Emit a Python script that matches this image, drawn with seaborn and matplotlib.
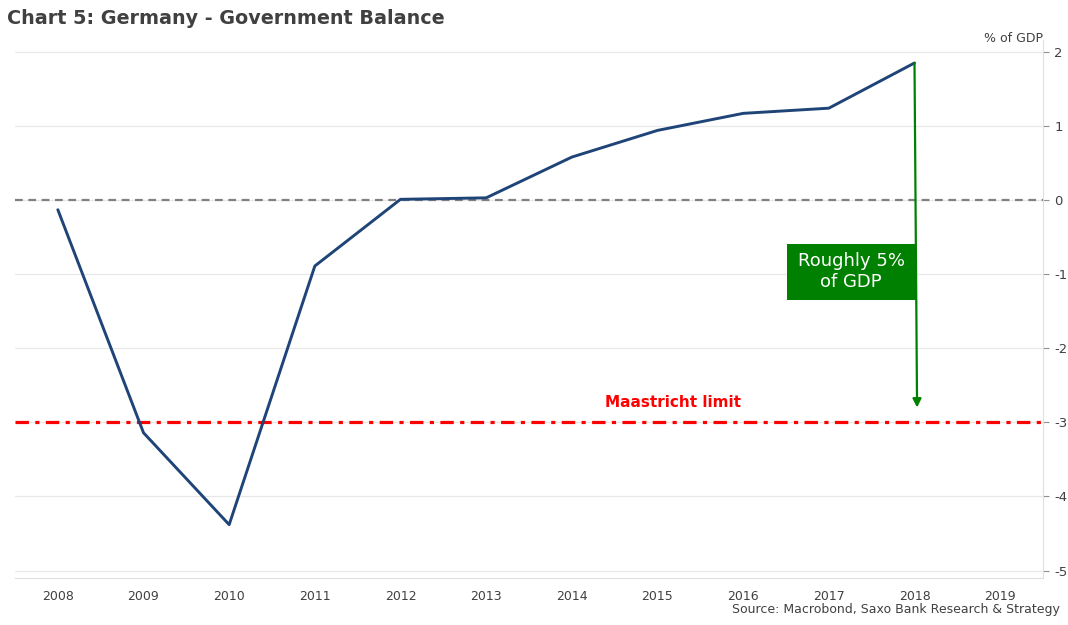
import numpy as np
import pandas as pd
import matplotlib
matplotlib.use("Agg")
import matplotlib.pyplot as plt
import seaborn as sns
from matplotlib.patches import Rectangle

# data (% of GDP)
years = [2008, 2009, 2010, 2011, 2012, 2013, 2014, 2015, 2016, 2017, 2018]
balance = [-0.13, -3.14, -4.38, -0.89, 0.01, 0.03, 0.58, 0.94, 1.17, 1.24, 1.85]
year_labels = [str(y) for y in range(2008, 2020)]
y_ticks = [2, 1, 0, -1, -2, -3, -4, -5]
maastricht = -3

df = pd.DataFrame({"year": years, "balance": balance})

sns.set_style("white")
plt.rcParams['font.family'] = ['DejaVu Sans']

fig = plt.figure(figsize=(10.68, 6.25), dpi=100)
ax = fig.add_axes([15 / 1068, 1 - 578 / 625, (1043 - 15) / 1068, (578 - 40) / 625])

for t in y_ticks:
    ax.axhline(t, color="#e8e8e8", linewidth=0.9, zorder=0)

# zero line + Maastricht limit
ax.axhline(0, color="#808080", linewidth=1.6, linestyle=(0, (3.5, 2.5)), zorder=1)
ax.axhline(maastricht, color="#ff0000", linewidth=2.3, dashes=(4.2, 2, 1.3, 2), zorder=1)

sns.lineplot(data=df, x="year", y="balance", ax=ax, color="#1f4478", linewidth=2.1, zorder=3)

# annotation arrow and box
ax.annotate("", xy=(2018.03, -2.8), xytext=(2018.0, 1.85),
            arrowprops=dict(arrowstyle="-|>,head_length=0.5,head_width=0.25", color="#008000", lw=1.6,
                            shrinkA=0, shrinkB=0), zorder=4)
ax.add_patch(Rectangle((2016.51, -1.345), 1.51, 0.755, facecolor="#008000", edgecolor="none", zorder=5))
ax.text(2017.26, -0.965, "Roughly 5%\nof GDP", color="white", fontsize=13, ha="center", va="center",
        linespacing=1.2, zorder=6)
ax.text(2015.18, -2.73, "Maastricht limit", color="#ff0000", fontsize=11, fontweight="bold",
        ha="center", va="center")

ax.set_xlim(2007.5, 2019.5)
ax.set_ylim(-5.1, 2.16)

# x axis: tick marks at year boundaries, labels centred
ax.set_xticks(np.arange(2007.5, 2020, 1))
ax.set_xticklabels([])
ax.set_xticks(np.arange(2008, 2020), minor=True)
ax.set_xticklabels(year_labels, minor=True)
ax.tick_params(axis="x", which="major", length=4, width=0.8, color="#909090", direction="out")
ax.tick_params(axis="x", which="minor", length=0, pad=9, labelsize=9, labelcolor="#404040")

ax.yaxis.tick_right()
ax.set_yticks(y_ticks)
ax.set_yticklabels([str(t) for t in y_ticks])
ax.tick_params(axis="y", length=4, width=0.8, color="#909090", pad=4, labelsize=9.5, labelcolor="#404040",
               right=True, left=False)

for s in ["top", "left"]:
    ax.spines[s].set_visible(False)
for s in ["bottom", "right"]:
    ax.spines[s].set_color("#e0e0e0")
    ax.spines[s].set_linewidth(0.8)

ax.set_xlabel("")
ax.set_ylabel("")

fig.text(7 / 1068, 1 - 18 / 625, "Chart 5: Germany - Government Balance", fontsize=13.8, fontweight="bold",
         color="#404040", ha="left", va="center")
fig.text(1043 / 1068, 1 - 38 / 625, "% of GDP", fontsize=9, color="#404040", ha="right", va="center")
fig.text(1060 / 1068, 1 - 610 / 625, "Source: Macrobond, Saxo Bank Research & Strategy", fontsize=9,
         color="#404040", ha="right", va="center")

fig.savefig("out.png", dpi=100)
